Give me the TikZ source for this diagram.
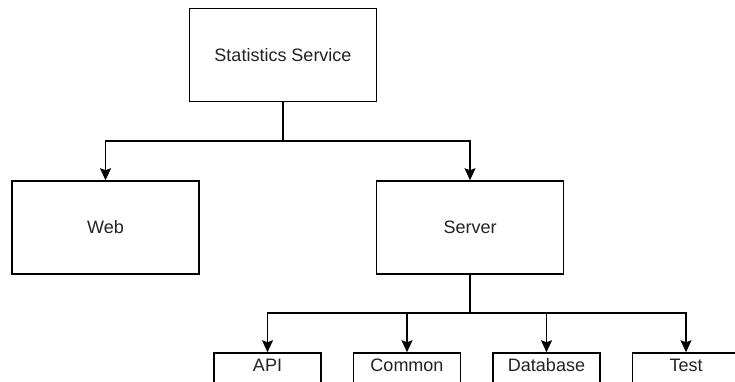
\documentclass[tikz,border=0pt]{standalone}
\usepackage{fontspec}
\setmainfont{Liberation Sans}
\usetikzlibrary{arrows.meta,positioning}
\definecolor{inkgray}{RGB}{34,34,34}

\begin{document}
\begin{tikzpicture}[x=1pt, y=-1pt,
    every node/.style={font=\fontsize{18}{21}\selectfont, text=inkgray},
    box/.style={draw, line width=1.5pt, minimum width=187pt, minimum height=93pt, inner sep=0pt},
    leaf/.style={draw, line width=1.5pt, minimum width=107pt, minimum height=40pt, inner sep=0pt,
        text height=13pt, text depth=16pt},
    link/.style={line width=1.5pt, -{Stealth[length=12pt, width=11pt, inset=2pt]}}]
    \useasboundingbox (0,0) rectangle (735,381);
    \clip (0,0) rectangle (735,381);

    \node[box] (stats) at (283,55) {Statistics Service};
    \node[box] (web) at (105.5,227.5) {Web};
    \node[box] (server) at (470,227.5) {Server};

    % server modules, cut by the page edge
    \node[leaf] (api) at (267.5,373) {API};
    \node[leaf, right=31pt of api] (common) {Common};
    \node[leaf, right=31pt of common] (database) {Database};
    \node[leaf, right=31pt of database] (test) {Test};

    \coordinate (split1) at (283,141);
    \coordinate (split2) at (470,313);

    \draw[line width=1.5pt] (stats.south) -- (split1);
    \draw[link] (split1) -| (web.north);
    \draw[link] (split1) -| (server.north);

    \draw[line width=1.5pt] (server.south) -- (split2);
    \foreach \m in {api,common,database,test}
        \draw[link] (split2) -| (\m.north);
\end{tikzpicture}
\end{document}
